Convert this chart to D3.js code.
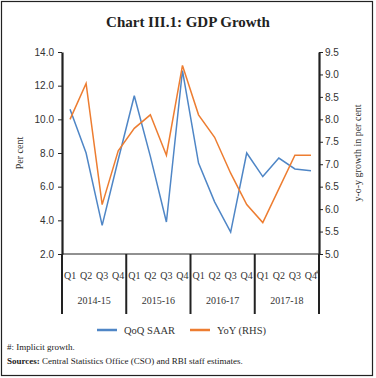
<!DOCTYPE html>
<html lang="en">
<head>
  <meta charset="UTF-8">
  <title>Chart III.1: GDP Growth</title>
  <script src="https://d3js.org/d3.v7.min.js"></script>
  <style>
    body { margin: 0; background: #fff; }
    svg { display: block; font-family: "Liberation Serif", "DejaVu Serif", serif; }
    .tick text { font-size: 10px; fill: #333; }
  </style>
</head>
<body>
  <svg id="chart" width="376" height="378"></svg>

  <script>
    // Data
    const years = ['2014-15', '2015-16', '2016-17', '2017-18'];
    const quarters = ['Q1', 'Q2', 'Q3', 'Q4'];
    // QoQ SAAR, left axis
    const qoq = [10.6, 8.0, 3.7, 7.6, 11.4, 7.8, 3.9, 12.9, 7.4, 5.1, 3.3, 8.0, 6.6, 7.7, 7.05, 6.95];
    // YoY, right axis
    const yoy = [8.0, 8.8, 6.1, 7.3, 7.8, 8.1, 7.2, 9.2, 8.1, 7.6, 6.8, 6.1, 5.7, 6.45, 7.2, 7.2];
    const leftTicks = [2, 4, 6, 8, 10, 12, 14];
    const rightTicks = [5, 5.5, 6, 6.5, 7, 7.5, 8, 8.5, 9, 9.5];

    const keys = [];
    years.forEach(y => quarters.forEach(q => keys.push(y + ' ' + q)));

    const svg = d3.select('#chart');
    const plot = { left: 62, right: 319, top: 52, bottom: 254 };

    // frame
    svg.append('rect')
      .attr('x', 1.5).attr('y', 1.5)
      .attr('width', 371).attr('height', 374)
      .attr('fill', 'none').attr('stroke', '#222').attr('stroke-width', 1.2);

    svg.append('text')
      .attr('x', 188).attr('y', 27)
      .attr('text-anchor', 'middle')
      .attr('font-size', '15px').attr('font-weight', 'bold').attr('fill', '#222')
      .text('Chart III.1: GDP Growth');

    const x = d3.scaleBand().domain(keys).range([plot.left, plot.right]);
    const yL = d3.scaleLinear().domain([2, 14]).range([plot.bottom, plot.top]);
    const yR = d3.scaleLinear().domain([5, 9.5]).range([plot.bottom, plot.top]);

    // baseline
    svg.append('line')
      .attr('x1', plot.left).attr('x2', plot.right)
      .attr('y1', plot.bottom).attr('y2', plot.bottom)
      .attr('stroke', '#222').attr('stroke-width', 1);

    // axes
    const gL = svg.append('g')
      .attr('transform', `translate(${plot.left},0)`)
      .call(d3.axisLeft(yL).tickValues(leftTicks).tickFormat(d3.format('.1f')).tickSize(4).tickSizeOuter(0));
    const gR = svg.append('g')
      .attr('transform', `translate(${plot.right},0)`)
      .call(d3.axisRight(yR).tickValues(rightTicks).tickFormat(d3.format('.1f')).tickSize(4).tickSizeOuter(0));
    [gL, gR].forEach(g => {
      g.select('.domain').attr('stroke', '#222').attr('stroke-width', 2.2);
      g.selectAll('.tick line').attr('stroke', '#222').attr('stroke-width', 1);
    });
    gL.selectAll('.tick text').attr('x', -8);
    gR.selectAll('.tick text').attr('x', 6);

    // axis titles
    svg.append('text')
      .attr('transform', 'translate(23,153) rotate(-90)')
      .attr('text-anchor', 'middle').attr('font-size', '10px').attr('fill', '#333')
      .text('Per cent');
    svg.append('text')
      .attr('transform', 'translate(361,153) rotate(-90)')
      .attr('text-anchor', 'middle').attr('font-size', '10px').attr('fill', '#333')
      .text('y-o-y growth in per cent');

    // category separators
    const yearWidth = x.bandwidth() * quarters.length;
    d3.range(years.length + 1).forEach(i => {
      const xx = plot.left + i * yearWidth;
      svg.append('line')
        .attr('x1', xx).attr('x2', xx)
        .attr('y1', plot.bottom).attr('y2', 314)
        .attr('stroke', '#222').attr('stroke-width', 2);
    });

    // quarter labels
    svg.append('g').selectAll('text')
      .data(keys)
      .join('text')
      .attr('x', d => x(d) + x.bandwidth() / 2)
      .attr('y', 279)
      .attr('text-anchor', 'middle')
      .attr('font-size', '10px').attr('fill', '#333')
      .text(d => d.split(' ')[1]);
    // implicit growth marker
    svg.append('text')
      .attr('x', x(keys[keys.length - 1]) + x.bandwidth() / 2 + 5)
      .attr('y', 274)
      .attr('font-size', '6px').attr('fill', '#333')
      .text('#');

    // year labels
    svg.append('g').selectAll('text')
      .data(years)
      .join('text')
      .attr('x', (d, i) => plot.left + (i + 0.5) * yearWidth)
      .attr('y', 304)
      .attr('text-anchor', 'middle')
      .attr('font-size', '10px').attr('fill', '#333')
      .text(d => d);

    // lines
    const cx = i => x(keys[i]) + x.bandwidth() / 2;
    const lineL = d3.line().x((d, i) => cx(i)).y(d => yL(d));
    const lineR = d3.line().x((d, i) => cx(i)).y(d => yR(d));
    const blue = '#4f86c6', orange = '#ed7d31';

    svg.append('path').datum(qoq)
      .attr('d', lineL)
      .attr('fill', 'none').attr('stroke', blue).attr('stroke-width', 1.5);
    svg.append('path').datum(yoy)
      .attr('d', lineR)
      .attr('fill', 'none').attr('stroke', orange).attr('stroke-width', 1.5);

    // legend
    const legend = [
      { name: 'QoQ SAAR', color: blue, x: 97 },
      { name: 'YoY (RHS)', color: orange, x: 190 }
    ];
    legend.forEach(l => {
      svg.append('line')
        .attr('x1', l.x).attr('x2', l.x + 20)
        .attr('y1', 330).attr('y2', 330)
        .attr('stroke', l.color).attr('stroke-width', 2.5);
      svg.append('text')
        .attr('x', l.x + 27).attr('y', 333.5)
        .attr('font-size', '10.5px').attr('fill', '#333')
        .text(l.name);
    });

    // notes
    svg.append('text')
      .attr('x', 7).attr('y', 350)
      .attr('font-size', '9px').attr('fill', '#222')
      .text('#: Implicit growth.');
    const src = svg.append('text')
      .attr('x', 7).attr('y', 364)
      .attr('font-size', '9px').attr('fill', '#222');
    src.append('tspan').attr('font-weight', 'bold').text('Sources: ');
    src.append('tspan').text('Central Statistics Office (CSO) and RBI staff estimates.');
  </script>
</body>
</html>
